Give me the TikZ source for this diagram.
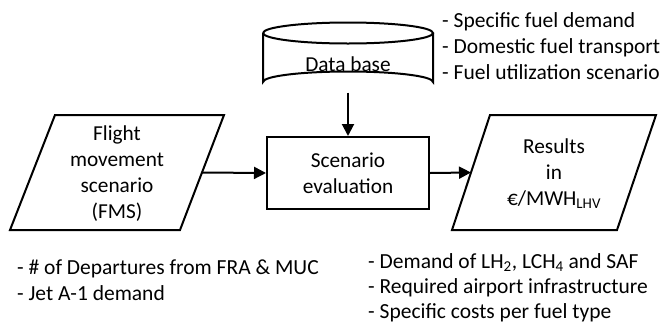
\documentclass[tikz,border=0pt]{standalone}
\usepackage{fontspec}
\setmainfont{Carlito}
\usetikzlibrary{arrows.meta,calc}

\tikzset{
  outline/.style={line width=2pt, line join=miter},
  flow/.style={line width=2pt, -{Triangle[length=12pt,width=12pt]}},
  label/.style={font=\fontsize{21.3}{26}\selectfont, align=center, inner sep=0pt},
  notes/.style={font=\fontsize{21.5}{26}\selectfont, align=left, inner sep=0pt, anchor=west},
}

\begin{document}
\begin{tikzpicture}[x=1pt,y=-1pt]
  \useasboundingbox (0,0) rectangle (661,322);

  % Data base cylinder
  \draw[outline] (263,33) arc[start angle=180, end angle=-180, x radius=85, y radius=10.5];
  \draw[outline] (263,33) -- (263,82) arc[start angle=180, end angle=360, x radius=85, y radius=10.5] -- (433,33);
  \node[label] (db) at (348,64) {Data base};
  \coordinate (dbB) at (348,92.5);

  % Flight movement scenario (input parallelogram)
  \coordinate (fmsTL) at (55,115);
  \coordinate (fmsTR) at (224,115);
  \coordinate (fmsBR) at (180,230);
  \coordinate (fmsBL) at (10,230);
  \draw[outline] (fmsTL) -- (fmsTR) -- (fmsBR) -- (fmsBL) -- cycle;
  \node[label] (fms) at (117,174) {Flight\\movement\\scenario\\(FMS)};
  \coordinate (fmsR) at ($(fmsTR)!0.5!(fmsBR)$);

  % Scenario evaluation box
  \node[label, draw, outline, minimum width=162pt, minimum height=72pt] (eval) at (348,173) {Scenario\\evaluation};

  % Results (output parallelogram)
  \coordinate (resTL) at (490,115);
  \coordinate (resTR) at (656,115);
  \coordinate (resBR) at (617,230);
  \coordinate (resBL) at (452,230);
  \draw[outline] (resTL) -- (resTR) -- (resBR) -- (resBL) -- cycle;
  \node[label] (res) at (554,174) {Results\\in\\€/MWH\textsubscript{LHV}};
  \coordinate (resL) at ($(resTL)!0.5!(resBL)$);

  % Connectors
  \draw[flow] (dbB) -- (eval.north);
  \draw[flow] (fmsR) -- (eval.west);
  \draw[flow] (eval.east) -- (resL);

  % Annotations
  \node[notes] (dbnotes) at (442,46) {- Specific fuel demand\\- Domestic fuel transport\\- Fuel utilization scenario};
  \node[notes] (fmsnotes) at (17,280) {- \# of Departures from FRA \& MUC\\- Jet A-1 demand};
  \node[notes, font=\fontsize{21.5}{25}\selectfont] (resnotes) at (368,288) {- Demand of LH\textsubscript{2}, LCH\textsubscript{4} and SAF\\- Required airport infrastructure\\- Specific costs per fuel type};
\end{tikzpicture}
\end{document}
